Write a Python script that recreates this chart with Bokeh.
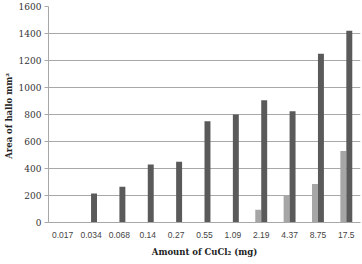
from bokeh.plotting import figure
from bokeh.models import ColumnDataSource, Range1d, FixedTicker, FactorRange
from bokeh.transform import dodge
from bokeh.embed import file_html
from bokeh.resources import INLINE

categories = ["0.017", "0.034", "0.068", "0.14", "0.27", "0.55", "1.09", "2.19", "4.37", "8.75", "17.5"]
dark_values = [0, 215, 265, 430, 450, 750, 800, 905, 825, 1250, 1420]
light_values = [0, 0, 0, 0, 0, 0, 0, 95, 200, 285, 530]
y_ticks = [0, 200, 400, 600, 800, 1000, 1200, 1400, 1600]

source = ColumnDataSource(dict(cat=categories, dark=dark_values, light=light_values))

p = figure(width=362, height=264, x_range=FactorRange(*categories, range_padding=0),
           y_range=Range1d(0, 1600), output_backend="svg", toolbar_location=None,
           min_border_left=43, min_border_right=2, min_border_top=6, min_border_bottom=42)
p.outline_line_color = None
p.background_fill_color = "white"
p.border_fill_color = "white"

p.vbar(x=dodge("cat", -0.105, range=p.x_range), top="light", width=0.21, source=source,
       fill_color="#a6a6a6", line_color=None)
p.vbar(x=dodge("cat", 0.105, range=p.x_range), top="dark", width=0.21, source=source,
       fill_color="#5a5a5a", line_color=None)

p.xgrid.grid_line_color = None
p.ygrid.grid_line_color = "#a8a8a8"
p.ygrid.grid_line_width = 1
p.yaxis.ticker = FixedTicker(ticks=y_ticks)
p.yaxis.axis_line_color = "#a8a8a8"
p.yaxis.major_tick_line_color = "#a8a8a8"
p.yaxis.major_tick_out = 4
p.yaxis.major_tick_in = 0
p.yaxis.minor_tick_line_color = None
p.yaxis.major_label_text_font = "DejaVu Serif"
p.yaxis.major_label_text_font_size = "9px"
p.yaxis.major_label_text_color = "#333333"
p.yaxis.major_label_standoff = 3
p.yaxis.axis_label = "Area of hallo  mm²"
p.yaxis.axis_label_text_font = "DejaVu Serif"
p.yaxis.axis_label_text_font_style = "bold"
p.yaxis.axis_label_text_font_size = "8.5px"
p.yaxis.axis_label_text_color = "#222222"
p.yaxis.axis_label_standoff = 2

p.xaxis.axis_line_color = "#a8a8a8"
p.xaxis.major_tick_line_color = None
p.xaxis.major_tick_out = 0
p.xaxis.major_tick_in = 0
p.xaxis.minor_tick_line_color = None
p.xaxis.major_label_text_font = "Liberation Sans"
p.xaxis.major_label_text_font_size = "8.5px"
p.xaxis.major_label_text_color = "#444444"
p.xaxis.major_label_standoff = 9
p.xaxis.axis_label = "Amount of CuCl₂ (mg)"
p.xaxis.axis_label_text_font = "DejaVu Serif"
p.xaxis.axis_label_text_font_style = "bold"
p.xaxis.axis_label_text_font_size = "8.5px"
p.xaxis.axis_label_text_color = "#222222"
p.xaxis.axis_label_standoff = 6

open("out.html", "w").write(file_html(p, INLINE))
